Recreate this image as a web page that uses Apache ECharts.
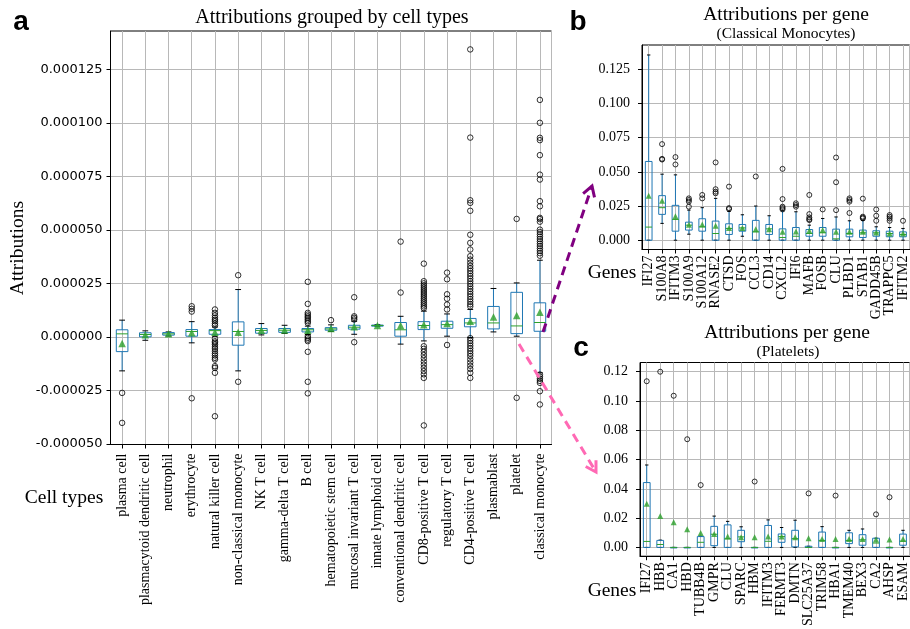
<!DOCTYPE html>
<html><head><meta charset="utf-8">
<script src="https://cdn.jsdelivr.net/npm/echarts@6/dist/echarts.min.js"></script>
<style>html,body{margin:0;padding:0;background:#fff}#c{width:910px;height:629px}</style>
</head><body><div id="c"></div>
<script>
// ================= Panel a: attributions grouped by cell types (units of 1e-6) =================
const A_UNIT = 1e-6;
const cellTypes = ['plasma cell','plasmacytoid dendritic cell','neutrophil','erythrocyte','natural killer cell',
  'non-classical monocyte','NK T cell','gamma-delta T cell','B cell','hematopoietic stem cell',
  'mucosal invariant T cell','innate lymphoid cell','conventional dendritic cell','CD8-positive T cell',
  'regulatory T cell','CD4-positive T cell','plasmablast','platelet','classical monocyte'];
// [whisker low, Q1, median, Q3, whisker high]
const cellStats = [
  [-15.9,-6.9,1.4,3.3,7.8],[-1.6,0.0,1.1,1.9,2.8],[0.4,0.8,1.4,2.0,2.3],[-2.8,0.3,2.5,3.4,7.1],
  [0.3,1.2,2.9,3.4,4.6],[-15.9,-3.9,2.5,7.0,22.1],[0.9,1.7,3.0,3.9,6.2],[1.6,2.1,3.1,3.9,5.4],
  [1.1,2.3,3.3,3.9,5.0],[2.5,3.1,3.7,4.3,5.6],[1.2,3.6,4.5,5.4,7.3],[4.9,5.0,5.3,5.5,5.7],
  [-3.4,0.3,3.3,6.7,9.6],[-1.9,3.4,5.3,7.1,12.0],[0.3,4.0,5.7,7.3,10.7],[-0.3,4.7,6.5,8.6,12.8],
  [2.3,3.7,6.5,14.2,22.6],[0.3,1.5,5.1,20.8,25.2],[-16.8,2.6,6.7,15.9,35.8]
];
const cellMeans = [-3.1,1.0,1.4,1.9,2.2,2.2,3.1,3.2,3.1,3.9,4.7,5.3,5.3,5.7,6.2,7.3,9.3,10.0,11.5];
const cellOutliers = [
  [-26.2,-40.2],[],[],[14.3,13.1,11.8,-28.7],
  [12.8,11.2,10.0,8.9,8.0,7.3,6.2,5.3,-0.9,-2.1,-2.8,-3.6,-4.7,-5.6,-6.7,-7.8,-8.7,-9.8,-10.6,-13.7,-14.5,-16.8,-37.1],
  [28.8,-21.0],[],[],
  [25.7,15.4,11.2,10.4,9.6,8.9,8.1,7.3,6.5,0.3,-0.5,-1.3,-2.0,-7.0,-21.0,-26.4],
  [7.8],[18.5,9.6,8.9,8.1,-2.5],[],[44.5,20.7],
  [34.2,26.0,25.0,24.1,23.2,22.3,21.4,20.5,19.6,18.7,17.8,16.9,16.0,15.1,14.2,13.4,-4.4,-5.6,-7.0,-8.5,-10.0,-11.5,-13.0,-14.5,-16.0,-17.5,-19.2,-41.4],
  [30.0,26.9,19.9,17.8,15.1,12.8,-3.8],
  [134.3,93.1,63.8,62.6,58.9,47.7,43.9,40.8,37.7,36.1,34.6,33.2,32.0,30.8,29.6,28.4,27.2,26.0,24.8,23.6,22.4,21.2,20.0,18.8,17.6,16.4,15.2,14.2,-0.6,-1.8,-3.0,-4.2,-5.4,-6.6,-7.8,-9.0,-10.5,-12.0,-13.5,-15.0,-16.8,-19.2],
  [],[55.1,-28.5],
  [110.7,100.0,93.0,91.9,84.9,75.8,73.5,63.4,61.0,55.6,55.0,53.8,50.1,49.0,47.9,46.8,45.7,44.6,43.5,42.4,41.3,40.2,39.1,37.9,-17.6,-18.6,-19.6,-20.6,-21.5,-25.4,-31.6]
];
const cellTicks = [-50,-25,0,25,50,75,100,125];

// ================= Panel b: attributions per gene (Classical Monocytes) =================
const genesB = ['IFI27','S100A8','IFITM3','S100A9','S100A12','RNASE2','CTSD','FOS','CCL3','CD14',
  'CXCL2','IFI6','MAFB','FOSB','CLU','PLBD1','STAB1','GADD45B','TRAPPC5','IFITM2'];
const statsB = [
  [0,0,0.0096,0.0576,0.1355],[0.0123,0.0189,0.0238,0.0326,0.0483],[0,0.0066,0.0152,0.0255,0.0478],
  [0.0044,0.0074,0.011,0.0132,0.022],[0,0.0066,0.0098,0.0157,0.0238],[0,0,0.0049,0.014,0.0306],
  [0,0.0042,0.0086,0.012,0.021],[0.0029,0.0066,0.009,0.0115,0.0186],[0,0,0.0061,0.0145,0.025],
  [0,0.0042,0.0083,0.0115,0.0179],[0,0,0.002,0.0083,0.0215],[0,0,0.0029,0.0093,0.0208],
  [0,0.0029,0.0049,0.0078,0.011],[0,0.0029,0.0054,0.0093,0.0159],[0,0,0.001,0.0081,0.017],
  [0,0.0025,0.0049,0.0081,0.0142],[0,0.002,0.0054,0.0074,0.0145],[0,0.0029,0.0054,0.0069,0.0098],
  [0,0.0025,0.0049,0.0066,0.0093],[0,0.0025,0.0042,0.0061,0.0086]
];
const meansB = [0.0326,0.0289,0.0176,0.0113,0.0115,0.0105,0.009,0.009,0.0081,0.0081,
  0.0061,0.0064,0.0069,0.0074,0.0061,0.0061,0.0061,0.0056,0.0049,0.0049];
const outliersB = [
  [],[0.0703,0.0595,0.059],[0.0608,0.0554],[0.0306,0.0294,0.0282,0.0245],[0.0331,0.0306],
  [0.0569,0.0373,0.0355,0.0343],[0.0392,0.0235,0.0228],[],[0.0466],[],
  [0.0522,0.0301,0.0245,0.0235,0.0225],[0.027,0.0257,0.0245],[0.0331,0.0191,0.0167,0.0154,0.0147],
  [0.0225],[0.0605,0.0424,0.022],[0.0306,0.0294,0.0282,0.0199],[0.0304,0.0172,0.0165,0.0159],
  [0.0225,0.0179,0.0142],[0.0184,0.0172,0.0159,0.0142],[0.0142]
];
const ticksB = [0,0.025,0.05,0.075,0.1,0.125];

// ================= Panel c: attributions per gene (Platelets) =================
const genesC = ['IFI27','HBB','CA1','HBD','TUBB4B','GMPR','CLU','SPARC','HBM','IFITM3',
  'FERMT3','DMTN','SLC25A37','TRIM58','HBA1','TMEM40','BEX3','CA2','AHSP','ESAM'];
const statsC = [
  [0,0,0.0041,0.0443,0.0563],[0,0,0.002,0.0048,0.005],[0,0,0,0,0],[0,0,0,0,0],
  [0,0,0.0035,0.0074,0.0076],[0,0.0012,0.009,0.0144,0.0214],[0,0,0.0059,0.0154,0.0178],
  [0,0.0039,0.0072,0.0117,0.0141],[0,0,0,0,0],[0,0,0.0042,0.015,0.0188],
  [0,0.0035,0.0074,0.0092,0.0136],[0,0.0004,0.006,0.0117,0.0186],[0,0,0,0.0008,0.0008],
  [0,0,0.0048,0.0105,0.0142],[0,0,0,0,0],[0,0.0026,0.0048,0.01,0.0117],
  [0,0.0015,0.0052,0.0087,0.0126],[0,0,0.003,0.0063,0.0063],[0,0,0,0,0],[0,0.0015,0.0043,0.0091,0.0117]
];
const meansC = [0.0298,0.0215,0.0172,0.0124,0.0098,0.0092,0.0074,0.007,0.007,0.0074,
  0.0075,0.007,0.0063,0.0058,0.0057,0.0057,0.0057,0.0054,0.0054,0.0057];
const outliersC = [
  [0.1135],[0.12],[0.1036],[0.0739],[0.0426],[],[],[],[0.045],[],
  [],[],[0.0369],[],[0.0354],[],[],[0.0226],[0.0343],[]
];
const ticksC = [0,0.02,0.04,0.06,0.08,0.1,0.12];

// ================= styling =================
const BLUE = '#1f77b4', GREEN = '#2ca02c', GRIDC = '#b8b8b8';
const SERIF = "'Liberation Serif','DejaVu Serif',serif";
const SANS = "'DejaVu Sans',sans-serif";

function boxRenderer(params, api) {
  const x = api.value(0);
  const y = [1,2,3,4,5].map(k => api.coord([x, api.value(k)])[1]);
  const cx = api.coord([x, api.value(1)])[0];
  const band = api.size([1, 0])[0];
  const bw = band * 0.5, cw = band * 0.25;
  const ln = (x1,y1,x2,y2,c) => ({type:'line', shape:{x1,y1,x2,y2}, style:{stroke:c, lineWidth:1}});
  return {type:'group', children:[
    ln(cx, y[1], cx, y[0], BLUE),
    ln(cx, y[3], cx, y[4], BLUE),
    ln(cx-cw/2, y[0], cx+cw/2, y[0], '#000'),
    ln(cx-cw/2, y[4], cx+cw/2, y[4], '#000'),
    {type:'rect', shape:{x:cx-bw/2, y:y[3], width:bw, height:Math.max(y[1]-y[3],0.5)}, style:{fill:'none', stroke:BLUE, lineWidth:1}},
    ln(cx-bw/2, y[2], cx+bw/2, y[2], GREEN)
  ]};
}

function seriesFor(idx, stats, means, outs, unit, triSize, circ) {
  const outData = [];
  outs.forEach((arr, i) => arr.forEach(v => outData.push([i+1, v*unit])));
  return [
    {type:'custom', xAxisIndex:idx, yAxisIndex:idx, renderItem:boxRenderer, silent:true, z:3,
     data: stats.map((s,i) => [i+1].concat(s.map(v => v*unit))), encode:{x:0, y:[1,2,3,4,5]}},
    {type:'scatter', xAxisIndex:idx, yAxisIndex:idx, symbol:'circle', symbolSize:circ, silent:true, z:4,
     itemStyle:{color:'rgba(0,0,0,0)', borderColor:'#000', borderWidth:1}, data: outData},
    {type:'scatter', xAxisIndex:idx, yAxisIndex:idx, symbol:'triangle', symbolSize:triSize, silent:true, z:5,
     itemStyle:{color:GREEN}, data: means.map((m,i) => [i+1, m*unit])}
  ];
}

function xAxisCfg(idx, names, margin) {
  // positions 1..n; the two axis ends (0.5, n+0.5) are blank placeholders hidden by showMin/MaxLabel:false
  const n = names.length;
  const pos = [0.5].concat(names.map((_, i) => i+1), [n+0.5]);
  return {type:'value', gridIndex:idx, min:0.5, max:n+0.5,
    axisLine:{show:true, onZero:false, lineStyle:{color:'#000', width:1}},
    axisTick:{show:true, length:4, lineStyle:{color:'#000'}, customValues:pos},
    axisLabel:{show:true, rotate:90, margin, customValues:pos,
      formatter:v => (Number.isInteger(v) ? names[v-1] : ''),
      showMinLabel:false, showMaxLabel:false,
      fontFamily:SERIF, fontSize:14, color:'#000'},
    splitLine:{show:true, lineStyle:{color:GRIDC, width:1}}};
}
function yAxisCfg(idx, min, max, ticks, fmt, font, size, margin) {
  return {type:'value', gridIndex:idx, min, max,
    axisLine:{show:true, lineStyle:{color:'#000', width:1}},
    axisTick:{show:true, length:4, lineStyle:{color:'#000'}, customValues:ticks},
    axisLabel:{show:true, margin, customValues:ticks, formatter:fmt, fontFamily:font, fontSize:size, color:'#000',
      showMinLabel:true, showMaxLabel:true},
    splitLine:{show:true, lineStyle:{color:GRIDC, width:1}}};
}

// arrows
function arrow(x0, y0, x1, y1, color) {
  const L = Math.hypot(x1-x0, y1-y0), dx = (x1-x0)/L, dy = (y1-y0)/L;
  const px = -dy, py = dx, bx = x1 - 10*dx, by = y1 - 10*dy;
  return [
    {type:'line', z:100, silent:true, shape:{x1:x0, y1:y0, x2:x1, y2:y1},
     style:{stroke:color, lineWidth:3, lineDash:[9,6]}},
    {type:'polyline', z:100, silent:true, shape:{points:[[bx+6*px, by+6*py],[x1,y1],[bx-6*px, by-6*py]]},
     style:{stroke:color, lineWidth:3, fill:null}}
  ];
}
function txt(x, y, text, font, rot) {
  return {type:'text', x, y, rotation:rot||0, z:100, silent:true,
    style:{text, font, fill:'#000', align:'center', verticalAlign:'middle'}};
}

const chart = echarts.init(document.getElementById('c'), null, {renderer:'canvas'});
chart.setOption({
  animation:false,
  backgroundColor:'#fff',
  grid:[
    {left:110.5, top:31, width:441, height:413.5, show:true, borderColor:'#000', borderWidth:1, backgroundColor:'transparent'},
    {left:642, top:45, width:273.5, height:204.5, show:true, borderColor:'#000', borderWidth:1, backgroundColor:'transparent'},
    {left:640, top:362.5, width:273.5, height:204, show:true, borderColor:'#000', borderWidth:1, backgroundColor:'transparent'}
  ],
  xAxis:[xAxisCfg(0, cellTypes, 9), xAxisCfg(1, genesB, 6), xAxisCfg(2, genesC, 6)],
  yAxis:[
    yAxisCfg(0, -50.3*A_UNIT, 142.9*A_UNIT, cellTicks.map(v => v*A_UNIT), v => v.toFixed(6), SANS, 13, 8),
    yAxisCfg(1, -0.0068, 0.1428, ticksB, v => v.toFixed(3), SERIF, 14, 12),
    yAxisCfg(2, -0.006, 0.1263, ticksC, v => v.toFixed(2), SERIF, 14, 12)
  ],
  series:[].concat(
    seriesFor(0, cellStats, cellMeans, cellOutliers, A_UNIT, 7.5, 5.5),
    seriesFor(1, statsB, meansB, outliersB, 1, 6, 5),
    seriesFor(2, statsC, meansC, outliersC, 1, 6, 5)
  ),
  graphic:[].concat(
    arrow(543, 332, 592, 186, '#800080'),
    arrow(519, 344, 596, 472, '#ff69b4'),
    [
      txt(21, 22, 'a', "bold 28px 'Liberation Sans',sans-serif"),
      txt(332, 18, 'Attributions grouped by cell types', "20px " + SERIF),
      txt(18, 248, 'Attributions', "19.5px " + SERIF, Math.PI/2),
      txt(64, 498, 'Cell types', "19.5px " + SERIF),
      txt(578, 22, 'b', "bold 28px 'Liberation Sans',sans-serif"),
      txt(786, 15, 'Attributions per gene', "19.5px " + SERIF),
      txt(786, 34, '(Classical Monocytes)', "15.5px " + SERIF),
      txt(612, 273, 'Genes', "19.5px " + SERIF),
      txt(581, 348, 'c', "bold 28px 'Liberation Sans',sans-serif"),
      txt(787, 333, 'Attributions per gene', "19.5px " + SERIF),
      txt(788, 352, '(Platelets)', "15.5px " + SERIF),
      txt(612, 591, 'Genes', "19.5px " + SERIF)
    ]
  )
});
</script></body></html>
